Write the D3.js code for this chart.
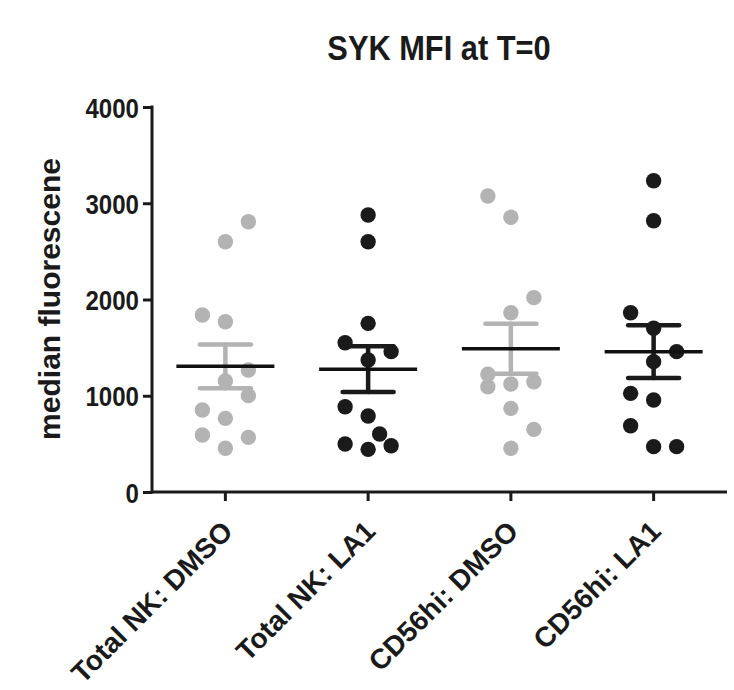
<!DOCTYPE html>
<html>
<head>
<meta charset="utf-8">
<script src="https://cdn.jsdelivr.net/npm/d3@7"></script>
<style>
body { margin: 0; background: #fff; }
text { font-family: "Liberation Sans", Arial, sans-serif; font-weight: bold; fill: #1a1a1a; }
</style>
</head>
<body>
<script>
// values
var categories = ["Total NK: DMSO", "Total NK: LA1", "CD56hi: DMSO", "CD56hi: LA1"];
var totalNkDmso = [2808, 2600, 1839, 1769, 1268, 1153, 1001, 852, 765, 592, 568, 454];
var totalNkLa1 = [2878, 2600, 1752, 1551, 1458, 1371, 886, 790, 603, 499, 481, 443];
var cd56Dmso = [3075, 2854, 2019, 1863, 1223, 1146, 1122, 1094, 869, 651, 454];
var cd56La1 = [3234, 2818, 1863, 1701, 1458, 1354, 1025, 956, 689, 471, 471];
var yTicks = [0, 1000, 2000, 3000, 4000];
var title = "SYK MFI at T=0";
var yLabel = "median fluorescene";

var groups = [totalNkDmso, totalNkLa1, cd56Dmso, cd56La1];
var colors = ["#b3b3b3", "#1a1a1a", "#b3b3b3", "#1a1a1a"];

var width = 734, height = 690;
var plotLeft = 152, plotRight = 727, plotTop = 107, plotBottom = 492;
var r = 7.7;

var svg = d3.select("body").append("svg")
    .attr("width", width)
    .attr("height", height);

var y = d3.scaleLinear().domain([0, 4000]).range([plotBottom, plotTop]);
var x = d3.scaleBand().domain(categories).range([plotLeft + 2, plotRight - 2]);

// GraphPad-like scatter: columns 23px apart, sides alternate
function swarm(values, cx) {
  var col = 23, T = 23.5, D = 16;
  var placed = [];
  var next = 1;
  function hits(slot, py) {
    return placed.some(function(p) {
      var dy = Math.abs(p.py - py);
      if (p.slot === slot) return dy < T;
      var dx = Math.abs(p.slot - slot) * col;
      return Math.sqrt(dx * dx + dy * dy) < D;
    });
  }
  function room(slot, py) {
    return d3.min(placed, function(p) {
      var dx = Math.abs(p.slot - slot) * col, dy = p.py - py;
      return Math.sqrt(dx * dx + dy * dy);
    });
  }
  values.slice().sort(d3.ascending).forEach(function(v) {
    var py = y(v), slot;
    if (!hits(0, py)) slot = 0;
    else {
      var a = hits(next, py), b = hits(-next, py);
      if (!a && !b) { slot = next; next = -next; }
      else if (!a) slot = next;
      else if (!b) slot = -next;
      else if (!hits(next / 2, py)) slot = next / 2;
      else if (!hits(-next / 2, py)) slot = -next / 2;
      else {
        slot = [0, next, -next].sort(function(s, t) { return room(t, py) - room(s, py); })[0];
      }
    }
    placed.push({ v: v, py: py, slot: slot });
  });
  return placed.map(function(p) { return { cx: cx + p.slot * col, cy: p.py }; });
}

groups.forEach(function(vals, i) {
  var cx = x(categories[i]) + x.bandwidth() / 2;
  var g = svg.append("g");

  g.selectAll("circle")
    .data(swarm(vals, cx))
    .enter()
    .append("circle")
    .attr("cx", function(d) { return d.cx; })
    .attr("cy", function(d) { return d.cy; })
    .attr("r", r)
    .attr("fill", colors[i]);

  var m = d3.mean(vals);
  var sem = d3.deviation(vals) / Math.sqrt(vals.length);

  var err = g.append("g")
    .attr("stroke", colors[i])
    .attr("stroke-width", 4.5)
    .attr("stroke-linecap", "round");
  err.append("line")
    .attr("x1", cx).attr("x2", cx)
    .attr("y1", y(m - sem)).attr("y2", y(m + sem));
  [m - sem, m + sem].forEach(function(v) {
    err.append("line")
      .attr("x1", cx - 25.5).attr("x2", cx + 25.5)
      .attr("y1", y(v)).attr("y2", y(v));
  });

  g.append("line")
    .attr("x1", cx - 49).attr("x2", cx + 49)
    .attr("y1", y(m)).attr("y2", y(m))
    .attr("stroke", "#111")
    .attr("stroke-width", 3.5);
});

// axes
var yAxis = svg.append("g")
  .attr("transform", "translate(" + plotLeft + ",0)")
  .call(d3.axisLeft(y).tickValues(yTicks).tickFormat(d3.format("d")).tickSize(9).tickSizeOuter(0));
yAxis.select(".domain").remove();
yAxis.selectAll("line").attr("stroke", "#1a1a1a").attr("stroke-width", 3);
yAxis.selectAll("text")
  .attr("font-size", 28)
  .attr("x", -13 / 0.86)
  .attr("dy", 0)
  .attr("y", 10)
  .attr("transform", "scale(0.86,1)");

var xAxis = svg.append("g")
  .attr("transform", "translate(0," + plotBottom + ")")
  .call(d3.axisBottom(x).tickSize(9).tickSizeOuter(0));
xAxis.select(".domain").remove();
xAxis.selectAll("line").attr("stroke", "#1a1a1a").attr("stroke-width", 3);
xAxis.selectAll("text")
  .attr("font-size", 28)
  .attr("x", 0).attr("y", 0).attr("dy", 0)
  .attr("text-anchor", "end")
  .attr("transform", "translate(9,41) rotate(-45)");

svg.append("line")
  .attr("x1", plotLeft).attr("x2", plotLeft)
  .attr("y1", plotTop - 1.5).attr("y2", plotBottom + 1.5)
  .attr("stroke", "#1a1a1a").attr("stroke-width", 3);
svg.append("line")
  .attr("x1", plotLeft).attr("x2", plotRight)
  .attr("y1", plotBottom).attr("y2", plotBottom)
  .attr("stroke", "#1a1a1a").attr("stroke-width", 3);

svg.append("text")
  .attr("transform", "translate(439,60) scale(0.88,1)")
  .attr("text-anchor", "middle")
  .attr("font-size", 35)
  .text(title);

svg.append("text")
  .attr("transform", "translate(60,299) rotate(-90)")
  .attr("text-anchor", "middle")
  .attr("font-size", 30)
  .text(yLabel);
</script>
</body>
</html>
